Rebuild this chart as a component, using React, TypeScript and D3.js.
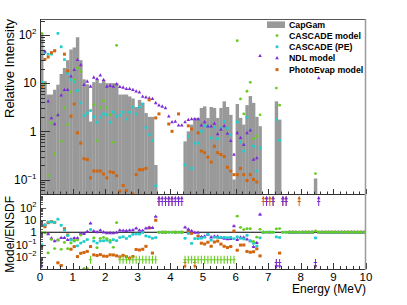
import React, { useEffect, useRef } from "react";
import * as d3 from "d3";

// 100 bins of 0.1 MeV from 0 to 10 MeV
const binWidth = 0.1;

const capGam = [
  110, 11, 5.8, 5.8, 7.3, 9.3, 15.5, 20.7, 30, 50,
  55, 90, 30, 12, 9.5, 1.6, 10.5, 11.8, 10, 11.5,
  10, 10, 10, 10, 5.8, 5.8, 5.8, 5.3, 4.8, 3.2,
  4.5, 3.9, 2.4, 2.0, 2.0, 0.2, 0, 0, 0, 0,
  0, 0, 0, 0, 0.62, 1.0, 1.38, 1.9, 1.9, 3.06,
  3.3, 1.9, 3.2, 3.06, 1.9, 3.06, 4.2, 3.2, 2.2, 0.1,
  3.7, 1.9, 1.38, 3.5, 5.4, 3.9, 2.0, 1.28, 0, 0,
  0, 0, 4.2, 1.75, 0, 0, 0, 0, 0, 0,
  0, 0, 0, 0, 0.105, 0, 0, 0, 0, 0,
  0, 0, 0, 0, 0, 0, 0, 0, 0, 0,
];

const cascade = [
  108, 9.6, 0.12, 1.49, 0.34, 2.16, 0.62, 3.06, 1.38, 6.6,
  11.8, 20.7, 17.7, 0.013, 0.01, 0, 3.6, 0.64, 3.16, 4.3,
  3.06, 2.2, 0.59, 61, 0, 0, 0, 0, 0, 0,
  0, 0, 0, 0, 0, 0, 0, 0, 0, 0,
  0, 0, 0, 0, 0, 0, 0, 0, 0, 0,
  0, 0, 0, 0, 0, 0, 0, 0, 0, 0,
  76, 4.7, 2.3, 6.8, 10.4, 0.7, 0.79, 2.2, 0, 0,
  0, 0, 7.9, 3.5, 0, 0, 0, 0, 0, 0,
  0, 0, 0, 0, 0.133, 0, 0, 0, 0, 0,
  0, 0, 0, 0, 0, 0, 0, 0, 0, 0,
];

const cascadePE = [
  10.4, 43, 40, 40, 47, 108, 57, 31, 16, 11.8,
  10.6, 7.0, 3.9, 2.1, 2.4, 2.7, 2.0, 1.55, 1.96, 2.3,
  2.2, 1.55, 2.5, 2.05, 2.15, 2.5, 1.8, 2.5, 3.2, 2.3,
  3.2, 3.7, 1.2, 0.85, 0.64, 0.074, 0, 0, 0, 0,
  0, 0, 0, 0, 0.2, 0.79, 0.17, 0.57, 0.57, 1.0,
  1.3, 1.28, 0.73, 1.2, 0.7, 1.17, 1.6, 1.17, 0.85, 0.03,
  1.57, 0.6, 0.39, 1.96, 1.08, 0.49, 0.15, 0.45, 0, 0,
  0, 0, 1.75, 0.65, 0, 0, 0, 0, 0, 0,
  0, 0, 0, 0, 0.036, 0, 0, 0, 0, 0,
  0, 0, 0, 0, 0, 0, 0, 0, 0, 0,
];

const ndl = [
  0, 46, 4.2, 1.9, 1.42, 2.2, 5.6, 7.3, 7.3, 14,
  19, 30.7, 24, 9.3, 10.9, 8.6, 13.2, 12.4, 14.6, 11.8,
  8.6, 8.9, 8.6, 9.6, 8.4, 8.2, 7.7, 7.7, 7.3, 6.8,
  6.5, 5.3, 5.1, 4.9, 4.76, 3.9, 3.5, 3.3, 3.06, 2.06,
  1.57, 1.6, 1.34, 1.34, 1.57, 1.75, 1.8, 1.8, 1.8, 1.34,
  1.57, 1.28, 1.28, 1.45, 0.88, 1.1, 1.3, 0.9, 0.64, 0.33,
  0.93, 0.74, 0.53, 0.93, 1.05, 0.26, 0.28, 37, 0, 0.03,
  0, 0.03, 0, 0, 0.03, 0.03, 0, 0, 0, 0,
  0, 0, 0, 0, 0, 12.8, 0, 0, 0, 0,
  0, 0, 0, 0, 0, 0, 0, 0, 0, 0,
];

const photoEvap = [
  8.2, 31, 35, 43, 47, 0.03, 0.03, 40, 18, 2.06,
  3.7, 0.93, 0.57, 0.27, 0.26, 0.108, 0.15, 0.15, 0.15, 0.13,
  0.108, 0.144, 0.14, 0.12, 0.057, 0.075, 0.059, 0.04, 0.05, 0.126,
  0.16, 0.16, 0.17, 4.5, 0.04, 1.9, 2.3, 0, 0, 1.42,
  1.0, 0, 2.3, 0, 0, 1.3, 1.12, 0, 0.93, 0.39,
  0.36, 0.29, 0.23, 0.49, 0.36, 0.33, 0.3, 0.18, 0.15, 0.126,
  0.126, 0.17, 0.126, 0.095, 0.126, 0.1, 0.089, 0.015, 0.02, 0.02,
  0.02, 0.02, 0, 0.035, 0.02, 0.02, 0, 0, 0, 0.02,
  0, 0, 0, 0, 0, 0, 0, 0, 0, 0,
  0, 0, 0, 0, 0, 0, 0, 0, 0, 0,
];

const xTickValues = [0, 1, 2, 3, 4, 5, 6, 7, 8, 9, 10];
const topYTicks = [
  { v: 0.1, base: "10", exp: "\u22121" },
  { v: 1, base: "1", exp: "" },
  { v: 10, base: "10", exp: "" },
  { v: 100, base: "10", exp: "2" },
];
const ratioYTicks = [
  { v: 0.01, base: "10", exp: "\u22122" },
  { v: 0.1, base: "10", exp: "\u22121" },
  { v: 1, base: "1", exp: "" },
  { v: 10, base: "10", exp: "" },
  { v: 100, base: "10", exp: "2" },
];
const histLabel = "CapGam";
const zeroRatio = 0.0057; // where CASCADE has no intensity

const series = [
  { name: "CASCADE model", values: cascade, color: "#66cc1f", shape: "circle" },
  { name: "CASCADE (PE)", values: cascadePE, color: "#22cccc", shape: "square" },
  { name: "NDL model", values: ndl, color: "#7b2bd8", shape: "triangle" },
  { name: "PhotoEvap model", values: photoEvap, color: "#d2660e", shape: "box" },
];

const font = "'Liberation Sans', Arial, sans-serif";

function drawMarker(g: any, shape: string, cx: number, cy: number, color: string) {
  if (shape === "circle") {
    g.append("circle").attr("cx", cx).attr("cy", cy).attr("r", 1.4).attr("fill", color);
  } else if (shape === "triangle") {
    g.append("path")
      .attr("d", `M${cx},${cy - 2}L${cx + 1.8},${cy + 1.3}L${cx - 1.8},${cy + 1.3}Z`)
      .attr("fill", color);
  } else {
    const s = shape === "box" ? 3 : 2.7;
    g.append("rect").attr("x", cx - s / 2).attr("y", cy - s / 2).attr("width", s).attr("height", s).attr("fill", color);
  }
}

export default function App() {
  const ref = useRef<SVGSVGElement>(null);

  useEffect(() => {
    const svg = d3.select(ref.current);
    svg.selectAll("*").remove();

    const x = d3.scaleLinear().domain([0, 10]).range([40, 366]);
    const yTop = d3.scaleLog().domain([0.05, 215]).range([194, 19]);
    const yRat = d3.scaleLog().domain([1e-3, 1e3]).range([269, 195.5]);
    const center = (i: number) => x((i + 0.5) * binWidth);
    const half = (x(binWidth) - x(0)) / 2;

    const defs = svg.append("defs");
    defs.append("clipPath").attr("id", "clipTop").append("rect")
      .attr("x", 40).attr("y", 19).attr("width", 326).attr("height", 175);
    defs.append("clipPath").attr("id", "clipRat").append("rect")
      .attr("x", 40).attr("y", 194.5).attr("width", 326).attr("height", 75);

    // ---------- upper pad ----------
    const top = svg.append("g").attr("clip-path", "url(#clipTop)");
    const bins = capGam.map((v, i) => ({ v, i })).filter((d) => d.v > 0);
    top.selectAll("rect.bin").data(bins).enter().append("rect")
      .attr("x", (d) => x(d.i * binWidth))
      .attr("width", (d) => x((d.i + 1) * binWidth) - x(d.i * binWidth) + 0.2)
      .attr("y", (d) => yTop(d.v))
      .attr("height", (d) => Math.max(0, 194 - yTop(d.v)))
      .attr("fill", "#999999");

    series.forEach((s) => {
      const g = top.append("g");
      s.values.forEach((v, i) => {
        if (v >= 0.05) drawMarker(g, s.shape, center(i), yTop(v), s.color);
      });
    });

    // axes of upper pad
    const axTop = svg.append("g").attr("stroke", "#333").attr("stroke-width", 1);
    for (let e = -2; e <= 2; e++) {
      for (let k = 1; k <= 9; k++) {
        const v = k * Math.pow(10, e);
        if (v < 0.05 || v > 215) continue;
        const yy = Math.round(yTop(v)) + 0.5;
        axTop.append("line").attr("x1", 40).attr("x2", k === 1 ? 50 : 45).attr("y1", yy).attr("y2", yy);
      }
    }
    for (let t = 0; t <= 50; t++) {
      const xx = Math.round(x(t * 0.2)) + 0.5;
      axTop.append("line").attr("x1", xx).attr("x2", xx).attr("y1", 194).attr("y2", t % 5 === 0 ? 189 : 191.5);
    }
    axTop.append("line").attr("x1", 40).attr("x2", 366).attr("y1", 19.5).attr("y2", 19.5).attr("stroke", "#555");
    axTop.append("line").attr("x1", 40.5).attr("x2", 40.5).attr("y1", 19).attr("y2", 195);
    axTop.append("line").attr("x1", 40).attr("x2", 366).attr("y1", 194.5).attr("y2", 194.5);
    axTop.append("line").attr("x1", 365.5).attr("x2", 365.5).attr("y1", 19).attr("y2", 195)
      .attr("stroke", "#9a9a9a").attr("stroke-width", 1.5);

    const lab = svg.append("g").attr("font-family", font).attr("fill", "#000");
    topYTicks.forEach((t) => {
      const txt = lab.append("text").attr("x", 36.5).attr("y", yTop(t.v) + 4.3)
        .attr("text-anchor", "end").attr("font-size", 12);
      txt.append("tspan").text(t.base);
      if (t.exp) txt.append("tspan").attr("dy", -5).attr("font-size", 8).text(t.exp);
    });
    lab.append("text").attr("transform", "translate(13.5,19) rotate(-90)")
      .attr("text-anchor", "end").attr("font-size", 13).text("Relative Intensity");

    // legend
    const leg = svg.append("g").attr("font-family", font);
    const rowY = [24.7, 35.6, 46.8, 58, 69.6];
    leg.append("rect").attr("x", 267).attr("y", rowY[0] - 3.3).attr("width", 18).attr("height", 6.6).attr("fill", "#999999");
    leg.append("text").attr("x", 289).attr("y", rowY[0] + 3.2).attr("font-size", 8.8).attr("font-weight", "bold").text(histLabel);
    series.forEach((s, k) => {
      drawMarker(leg, s.shape, 277, rowY[k + 1], s.color);
      leg.append("text").attr("x", 289).attr("y", rowY[k + 1] + 3.2)
        .attr("font-size", 8.8).attr("font-weight", "bold").text(s.name);
    });

    // ---------- ratio pad ----------
    const rat = svg.append("g").attr("clip-path", "url(#clipRat)");
    rat.append("line").attr("x1", 40).attr("x2", 366)
      .attr("y1", yRat(1)).attr("y2", yRat(1)).attr("stroke", "#000").attr("stroke-width", 1);

    const upArrow = (g: any, cx: number, color: string) => {
      g.append("line").attr("x1", cx).attr("x2", cx).attr("y1", 206).attr("y2", 197.5).attr("stroke", color).attr("stroke-width", 1);
      g.append("path").attr("d", `M${cx},${195.8}L${cx + 1.7},${199.3}L${cx - 1.7},${199.3}Z`).attr("fill", color);
      g.append("line").attr("x1", cx - half).attr("x2", cx + half).attr("y1", 201.5).attr("y2", 201.5).attr("stroke", color);
    };
    const downArrow = (g: any, cx: number, color: string) => {
      g.append("line").attr("x1", cx).attr("x2", cx).attr("y1", 259).attr("y2", 266).attr("stroke", color).attr("stroke-width", 1);
      g.append("path").attr("d", `M${cx},${268.8}L${cx + 1.7},${265.3}L${cx - 1.7},${265.3}Z`).attr("fill", color);
      g.append("line").attr("x1", cx - half).attr("x2", cx + half).attr("y1", 262.5).attr("y2", 262.5).attr("stroke", color);
    };

    [...series].reverse().forEach((s) => {
      const g = rat.append("g");
      s.values.forEach((m, i) => {
        const c = capGam[i];
        const cx = center(i);
        if (c > 0 && m > 0) {
          const r = m / c;
          if (r > 1e3) upArrow(g, cx, s.color);
          else if (r < 1e-3) downArrow(g, cx, s.color);
          else {
            g.append("line").attr("x1", cx - half).attr("x2", cx + half)
              .attr("y1", yRat(r)).attr("y2", yRat(r)).attr("stroke", s.color).attr("stroke-width", 0.8);
            drawMarker(g, s.shape, cx, yRat(r), s.color);
          }
        } else if (c === 0 && m === 0) {
          g.append("line").attr("x1", cx - half).attr("x2", cx + half)
            .attr("y1", yRat(1)).attr("y2", yRat(1)).attr("stroke", s.color).attr("stroke-width", 0.8);
          drawMarker(g, s.shape, cx, yRat(1), s.color);
        } else if (c === 0) {
          upArrow(g, cx, s.color);
        } else if (s.shape === "circle") {
          const yy = yRat(zeroRatio);
          g.append("line").attr("x1", cx - half).attr("x2", cx + half).attr("y1", yy).attr("y2", yy).attr("stroke", s.color).attr("stroke-width", 1.1);
          g.append("line").attr("x1", cx).attr("x2", cx).attr("y1", yy - 4).attr("y2", yy + 4).attr("stroke", s.color).attr("stroke-width", 1.1);
        } else {
          downArrow(g, cx, s.color);
        }
      });
    });

    const axRat = svg.append("g").attr("stroke", "#333").attr("stroke-width", 1);
    for (let e = -3; e <= 2; e++) {
      for (let k = 1; k <= 9; k++) {
        const v = k * Math.pow(10, e);
        const yy = Math.round(yRat(v)) + 0.5;
        axRat.append("line").attr("x1", 40).attr("x2", k === 1 ? 46 : 43).attr("y1", yy).attr("y2", yy).attr("stroke-width", 0.8);
      }
    }
    for (let t = 0; t <= 50; t++) {
      const xx = Math.round(x(t * 0.2)) + 0.5;
      axRat.append("line").attr("x1", xx).attr("x2", xx).attr("y1", 269).attr("y2", t % 5 === 0 ? 263 : 266);
    }
    axRat.append("line").attr("x1", 40.5).attr("x2", 40.5).attr("y1", 194).attr("y2", 270);
    axRat.append("line").attr("x1", 40).attr("x2", 366).attr("y1", 269.5).attr("y2", 269.5);
    axRat.append("line").attr("x1", 365.5).attr("x2", 365.5).attr("y1", 194).attr("y2", 270)
      .attr("stroke", "#9a9a9a").attr("stroke-width", 1.5);

    ratioYTicks.forEach((t) => {
      const txt = lab.append("text").attr("x", 36.5).attr("y", yRat(t.v) + 4)
        .attr("text-anchor", "end").attr("font-size", 11);
      txt.append("tspan").text(t.base);
      if (t.exp) txt.append("tspan").attr("dy", -4.5).attr("font-size", 7.5).text(t.exp);
    });
    xTickValues.forEach((v) => {
      lab.append("text").attr("x", x(v)).attr("y", 281.3).attr("text-anchor", "middle")
        .attr("font-size", 11.5).text(String(v));
    });
    lab.append("text").attr("x", 366).attr("y", 293).attr("text-anchor", "end")
      .attr("font-size", 12).text("Energy (MeV)");
    lab.append("text").attr("transform", "translate(14,196) rotate(-90)")
      .attr("text-anchor", "end").attr("font-size", 12).text("Model/ENSDF");
  }, []);

  return (
    <svg
      ref={ref}
      width={407}
      height={305}
      style={{ position: "absolute", left: 0, top: 0, background: "#fff" }}
    />
  );
}
